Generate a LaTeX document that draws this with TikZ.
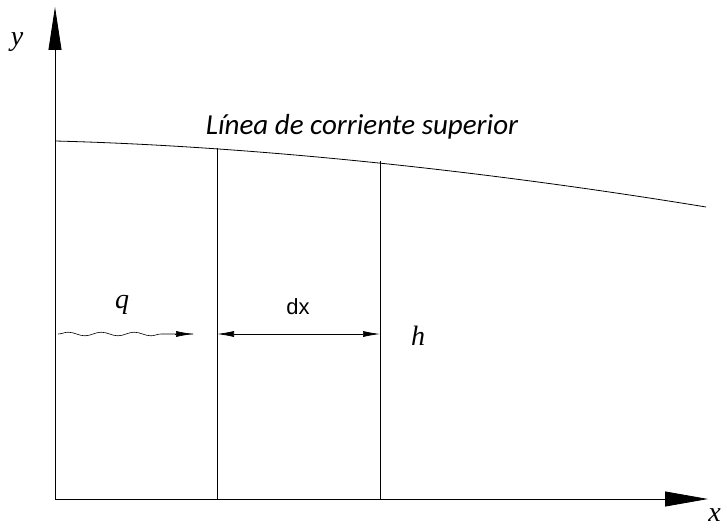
\documentclass[tikz,border=0pt]{standalone}
\usepackage{fontspec}
\setmainfont{Liberation Serif}
\newfontfamily\carl{Carlito}
\newfontfamily\lsans{Liberation Sans}
\usetikzlibrary{arrows.meta,decorations.pathmorphing}
\begin{document}
\begin{tikzpicture}[x=1pt,y=-1pt,
  ln/.style={line width=0.8pt},
  yaxis/.style={line width=0.8pt,-{Triangle[length=43pt,width=13pt]}},
  xaxis/.style={line width=0.8pt,-{Triangle[length=43pt,width=15pt]}},
  tip/.tip={Latex[length=17pt,width=6pt]},
  dim/.style={line width=0.7pt,tip-tip},
  wav/.style={line width=0.6pt,decorate,decoration={snake,amplitude=1.8pt,segment length=33pt,post length=17pt}},
  lbl/.style={inner sep=0pt},
  mth/.style={inner sep=0pt,font=\fontsize{28}{32}\selectfont\itshape}]
\useasboundingbox (0,0) rectangle (727,529);
\coordinate (O) at (55,499);
\coordinate (ytip) at (55,7);
\coordinate (xtip) at (708,499);
\draw[yaxis] (O) -- (ytip);
\draw[xaxis] (O) -- (xtip);
\coordinate (c0) at (55,141);
\coordinate (c1) at (217,148);
\coordinate (c2) at (380,161);
\coordinate (c3) at (706,207);
\draw[ln] (c0) .. controls (250,146) and (480,170) .. (c3);
\coordinate (b1) at (217,499);
\coordinate (b2) at (380,499);
\draw[ln] (c1) -- (b1);
\draw[ln] (c2) -- (b2);
\coordinate (w0) at (58,334);
\coordinate (w1) at (193,334);
\draw[wav] (w0) -- (w1);
\draw[line width=0.6pt,-tip] (175,334) -- (w1);
\coordinate (d0) at (217,334);
\coordinate (d1) at (380,334);
\draw[dim] (d0) -- (d1);
\node[lbl] (title) at (362,127) {\carl\itshape\fontsize{29}{32}\selectfont Línea de corriente superior};
\node[mth] (q) at (122,305) {q};
\node[lbl] (dx) at (298,307) {\lsans\fontsize{22}{26}\selectfont dx};
\node[mth] (h) at (418,336) {h};
\node[mth] (y) at (17,42) {y};
\node[mth,anchor=base east] (x) at (721,521) {x};
\end{tikzpicture}
\end{document}
